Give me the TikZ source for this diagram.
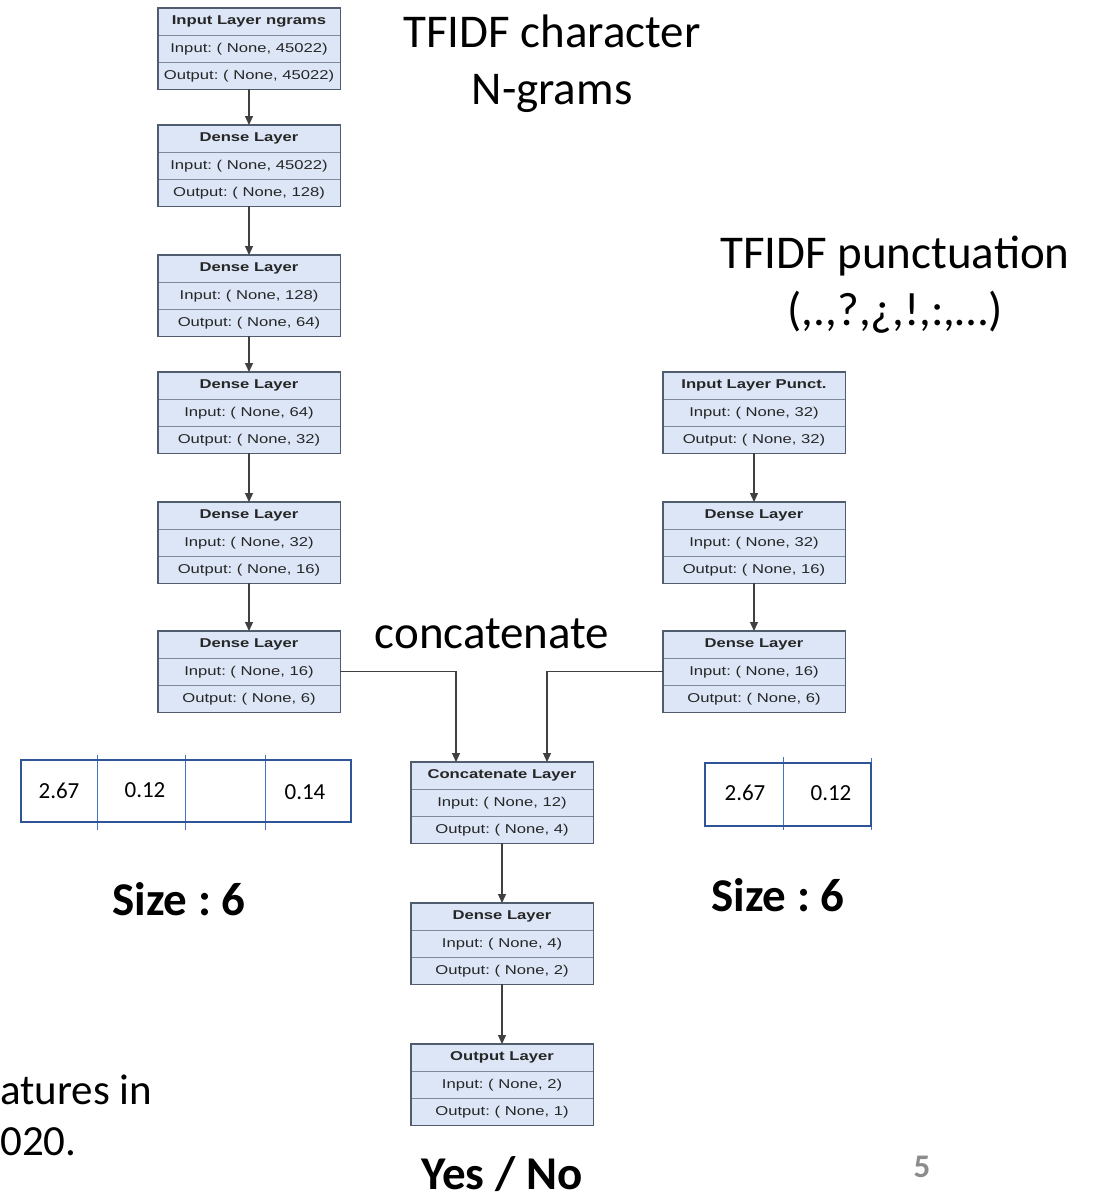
\documentclass[tikz,border=0pt]{standalone}
\usepackage{fontspec}
\usepackage{graphicx}
\setmainfont{Carlito}
\newfontfamily\arialf{Liberation Sans}
\usetikzlibrary{arrows.meta}
\frenchspacing
\definecolor{layerfill}{HTML}{DCE6F6}
\definecolor{layerdraw}{HTML}{4F5D6E}
\definecolor{rowcol}{HTML}{7D8A99}
\definecolor{connc}{HTML}{404040}
\definecolor{databorder}{HTML}{2F5597}
\definecolor{datadiv}{HTML}{4472C4}
\definecolor{pagenum}{HTML}{8C8C8C}
\newcommand\lfont{\arialf\fontsize{12.8}{15}\selectfont}
\newcommand\layerbox[6]{%
  \node[layer] (#1) at (#2,#3) {};
  \draw[rowsep] ([yshift=-27pt]#1.north west) -- ([yshift=-27pt]#1.north east);
  \draw[rowsep] ([yshift=27pt]#1.south west) -- ([yshift=27pt]#1.south east);
  \node[ltext] (#1t) at ([yshift=-13.5pt]#1.north) {\bfseries\scalebox{1.3}[1]{#4}};
  \node[ltext] (#1i) at (#1.center) {\scalebox{1.3}[1]{#5}};
  \node[ltext] (#1o) at ([yshift=13.5pt]#1.south) {\scalebox{1.3}[1]{#6}};
  \draw[layerdraw, line width=1.4pt] (#1.north west) rectangle (#1.south east);
}
\tikzset{
  layer/.style={anchor=north, minimum width=182pt, minimum height=81pt, inner sep=0pt, fill=layerfill},
  rowsep/.style={rowcol, line width=0.8pt},
  ltext/.style={font=\lfont, text=black!85, inner sep=0pt},
  arr/.style={connc, line width=1.3pt, -{Triangle[length=9pt,width=8pt]}},
  big/.style={font=\fontsize{47}{57}\selectfont, align=center, inner sep=0pt},
  bigb/.style={font=\fontsize{47}{57}\selectfont\bfseries, inner sep=0pt},
  side/.style={font=\fontsize{43}{52}\selectfont, anchor=west, inner sep=0pt},
  datanum/.style={font=\fontsize{23}{27}\selectfont, inner sep=0pt},
  dataout/.style={databorder, line width=2.2pt},
  datadivs/.style={datadiv, line width=1pt}
}
\begin{document}
\begin{tikzpicture}[x=1pt,y=-1pt]
\useasboundingbox[fill=white] (0,0) rectangle (1094,1200);

% left column
\layerbox{L1}{249}{8}{Input Layer ngrams}{Input: ( None, 45022)}{Output: ( None, 45022)}
\layerbox{L2}{249}{125}{Dense Layer}{Input: ( None, 45022)}{Output: ( None, 128)}
\layerbox{L3}{249}{255}{Dense Layer}{Input: ( None, 128)}{Output: ( None, 64)}
\layerbox{L4}{249}{372}{Dense Layer}{Input: ( None, 64)}{Output: ( None, 32)}
\layerbox{L5}{249}{502}{Dense Layer}{Input: ( None, 32)}{Output: ( None, 16)}
\layerbox{L6}{249}{631}{Dense Layer}{Input: ( None, 16)}{Output: ( None, 6)}

% right column
\layerbox{R1}{754}{372}{Input Layer Punct.}{Input: ( None, 32)}{Output: ( None, 32)}
\layerbox{R2}{754}{502}{Dense Layer}{Input: ( None, 32)}{Output: ( None, 16)}
\layerbox{R3}{754}{631}{Dense Layer}{Input: ( None, 16)}{Output: ( None, 6)}

% middle column
\layerbox{C}{502}{762}{Concatenate Layer}{Input: ( None, 12)}{Output: ( None, 4)}
\layerbox{D}{502}{903}{Dense Layer}{Input: ( None, 4)}{Output: ( None, 2)}
\layerbox{O}{502}{1044}{Output Layer}{Input: ( None, 2)}{Output: ( None, 1)}

% connectors
\draw[arr] (L1.south) -- (L2.north);
\draw[arr] (L2.south) -- (L3.north);
\draw[arr] (L3.south) -- (L4.north);
\draw[arr] (L4.south) -- (L5.north);
\draw[arr] (L5.south) -- (L6.north);
\draw[arr] (R1.south) -- (R2.north);
\draw[arr] (R2.south) -- (R3.north);
\draw[arr] (L6.east) -| ([xshift=-46pt]C.north);
\draw[arr] (R3.west) -| ([xshift=45pt]C.north);
\draw[arr] (C.south) -- (D.north);
\draw[arr] (D.south) -- (O.north);

% captions
\node[big] (tc) at (552,64) {TFIDF character\\N-grams};
\node[big] (tp) at (895,285) {TFIDF punctuation\\(,.,?,¿,!,:,…)};
\node[big] (cc) at (492,634) {concatenate};
\node[bigb] (s1) at (179,899) {Size : 6};
\node[bigb] (s2) at (778,895) {Size : 6};
\node[bigb] (yn) at (502,1174) {Yes / No};
\node[font=\fontsize{33}{36}\selectfont\bfseries, text=pagenum, inner sep=0pt] (pn) at (922,1167) {5};
\node[side] (f1) at (0,1090) {atures in};
\node[side] (f2) at (0,1142) {020.};

% data vectors
\draw[datadivs] (97,755) -- (97,830);
\draw[datadivs] (185,755) -- (185,830);
\draw[datadivs] (265,755) -- (265,830);
\draw[dataout] (21,760) rectangle (351,822);
\node[datanum] (v1) at (59,791) {2.67};
\node[datanum] (v2) at (145,790) {0.12};
\node[datanum] (v3) at (305,792) {0.14};

\draw[datadivs] (783,757) -- (783,830);
\draw[datadivs] (871,758) -- (871,830);
\draw[dataout] (705,763) rectangle (871,826);
\node[datanum] (w1) at (745,793) {2.67};
\node[datanum] (w2) at (831,793) {0.12};
\end{tikzpicture}
\end{document}
